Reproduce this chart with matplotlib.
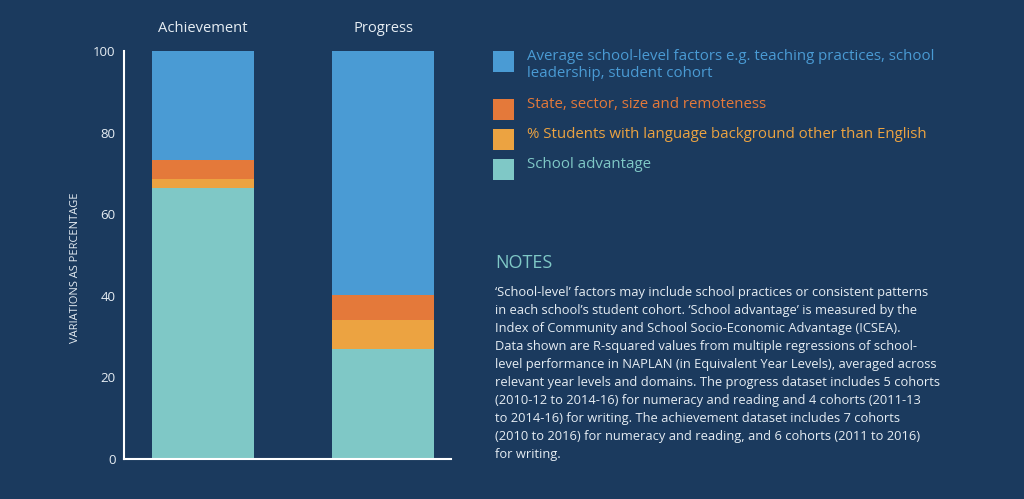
import matplotlib
matplotlib.use("Agg")
import matplotlib.pyplot as plt
from matplotlib.patches import Rectangle

plt.rcParams['font.family'] = ['Open Sans', 'DejaVu Sans']

categories = ["Achievement", "Progress"]
series_names = [
    "School advantage",
    "% Students with language background other than English",
    "State, sector, size and remoteness",
    "Average school-level factors e.g. teaching practices, school\nleadership, student cohort",
]
school_advantage = [66.4, 27.0]
lbote = [2.2, 7.1]
state_sector = [4.7, 6.1]
school_level = [26.7, 59.8]
yticks = [0, 20, 40, 60, 80, 100]

colors = ["#7fc8c6", "#eca341", "#e4793a", "#4a9bd4"]
bg = "#1b3a5e"
fg = "#e6edf3"

fig = plt.figure(figsize=(10.24, 4.99), dpi=100, facecolor=bg)
ax = fig.add_axes([124/1024, 1 - 459/499, 327/1024, 408/499])
ax.set_facecolor(bg)

series = [school_advantage, lbote, state_sector, school_level]
x = [0, 1]
bottom = [0, 0]
for vals, c in zip(series, colors):
    ax.bar(x, vals, bottom=bottom, width=0.567, color=c, edgecolor=c, linewidth=0)
    bottom = [b + v for b, v in zip(bottom, vals)]

ax.set_xlim(-0.439, -0.439 + 327/180)
ax.set_ylim(0, 100)
ax.set_yticks(yticks)
ax.set_xticks([])
ax.tick_params(axis='y', length=0, pad=6, labelsize=9.5, labelcolor=fg)
for s in ["top", "right"]:
    ax.spines[s].set_visible(False)
for s in ["left", "bottom"]:
    ax.spines[s].set_color("#ffffff")
    ax.spines[s].set_linewidth(1.5)

for xi, cat in zip(x, categories):
    ax.text(xi, 105.5, cat, ha='center', va='center', color=fg, fontsize=10.6)

fig.text(75.7/1024, 1 - 267.5/499, "VARIATIONS AS PERCENTAGE", rotation=90,
         ha='center', va='center', color=fg, fontsize=8.0)

# Legend: (label, colour, square top px, text centre px)
leg_items = [
    (series_names[3], colors[3], 51, 65.0),
    (series_names[2], colors[2], 99, 104.5),
    (series_names[1], colors[1], 129, 134.5),
    (series_names[0], colors[0], 159, 164.5),
]
for label, c, sq_top, ty in leg_items:
    fig.patches.append(Rectangle((493/1024, 1 - (sq_top + 20.5)/499), 21/1024, 20.5/499,
                                 transform=fig.transFigure, facecolor=c, edgecolor='none'))
    fig.text(527/1024, 1 - ty/499, label, ha='left', va='center',
             color=c, fontsize=10.85, linespacing=1.22)

fig.text(495/1024, 1 - 263/499, "NOTES", ha='left', va='center', color=colors[0], fontsize=13)

notes = ("‘School-level’ factors may include school practices or consistent patterns\n"
         "in each school’s student cohort. ‘School advantage’ is measured by the\n"
         "Index of Community and School Socio-Economic Advantage (ICSEA).\n"
         "Data shown are R-squared values from multiple regressions of school-\n"
         "level performance in NAPLAN (in Equivalent Year Levels), averaged across\n"
         "relevant year levels and domains. The progress dataset includes 5 cohorts\n"
         "(2010-12 to 2014-16) for numeracy and reading and 4 cohorts (2011-13\n"
         "to 2014-16) for writing. The achievement dataset includes 7 cohorts\n"
         "(2010 to 2016) for numeracy and reading, and 6 cohorts (2011 to 2016)\n"
         "for writing.")
fig.text(495/1024, 1 - 286/499, notes, ha='left', va='top', color=fg, fontsize=9.3,
         linespacing=1.50)

fig.savefig("out.png", dpi=100, facecolor=bg)
